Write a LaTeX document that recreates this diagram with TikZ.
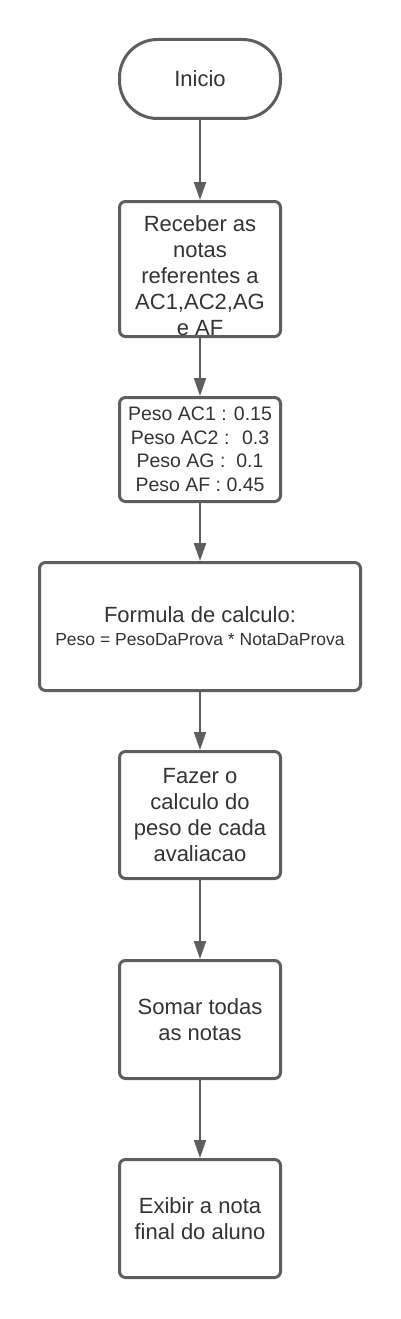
\documentclass[tikz,border=0pt]{standalone}
\usepackage{fontspec}
\setmainfont{Liberation Sans}
\usetikzlibrary{arrows.meta}
\definecolor{linegray}{HTML}{5E5E5E}
\definecolor{textgray}{HTML}{333333}
\begin{document}
\begin{tikzpicture}[x=1pt, y=-1pt, >={Triangle[length=18pt,width=12pt]},
    box/.style={draw=linegray, line width=3pt, rounded corners=6pt, inner sep=0pt,
      minimum width=161pt, text=textgray, align=center,
      font=\fontsize{22}{26}\selectfont},
    term/.style={box, rounded corners=38pt},
    txt/.style={text=textgray, align=center, inner sep=0pt, font=\fontsize{22}{26}\selectfont},
    flow/.style={->, draw=linegray, line width=2pt}]
    \useasboundingbox (0,0) rectangle (400,1319);
    % caixas
    \node[term, minimum height=79pt] (ini) at (200,79) {Inicio};
    \node[box, minimum height=135pt] (recv) at (200,269) {};
    \node[txt] (recvtxt) at ([yshift=-7pt]recv.center) {Receber as\\notas\\referentes a\\AC1,AC2,AG\\e AF};
    \node[box, minimum height=104pt, font=\fontsize{19.5}{23.5}\selectfont] (pesos) at (200,449.5)
        {Peso AC1 : 0.15\\Peso AC2 :~ 0.3\\Peso AG :~ 0.1\\Peso AF : 0.45};
    \node[box, minimum width=321pt, minimum height=128pt] (form) at (200,626.5)
        {Formula de calculo:\\[-3pt]{\fontsize{17.5}{21}\selectfont Peso = PesoDaProva * NotaDaProva}};
    \node[box, minimum height=127pt] (calc) at (200,815) {Fazer o\\calculo do\\peso de cada\\avaliacao};
    \node[box, minimum height=118pt] (soma) at (200,1019.5) {Somar todas\\as notas};
    \node[box, minimum height=118pt] (exib) at (200,1218.5) {Exibir a nota\\final do aluno};
    % setas
    \draw[flow] (ini) -- (recv);
    \draw[flow] (recv) -- (pesos);
    \draw[flow] (pesos) -- (form);
    \draw[flow] (form) -- (calc);
    \draw[flow] (calc) -- (soma);
    \draw[flow] (soma) -- (exib);
\end{tikzpicture}
\end{document}
